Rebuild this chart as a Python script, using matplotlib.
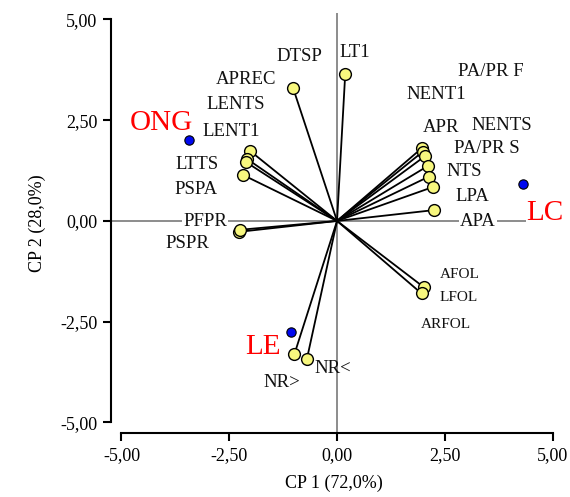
import matplotlib
matplotlib.use("Agg")
import matplotlib.pyplot as plt

plt.rcParams['font.family'] = ['Liberation Serif', 'DejaVu Serif']

# Variable vectors (CP1, CP2)
var_x = [-1.02, 0.19, -2.02, -2.09, -2.11, -2.18, -2.27, -2.25,
         1.96, 1.99, 2.03, 2.10, 2.13, 2.22, 2.26,
         2.02, 1.96, -0.99, -0.70]
var_y = [3.30, 3.65, 1.74, 1.54, 1.46, 1.14, -0.27, -0.22,
         1.80, 1.72, 1.60, 1.36, 1.10, 0.84, 0.27,
         -1.65, -1.80, -3.31, -3.43]

# Variable labels and their positions
lab_text = ["DTSP", "LT1", "APREC", "LENTS", "LENT1", "LTTS", "PSPA", "PFPR", "PSPR",
            "PA/PR F", "NENT1", "APR", "NENTS", "PA/PR S", "NTS", "LPA", "APA",
            "NR<", "NR>"]
lab_x = [-0.88, 0.42, -2.11, -2.34, -2.46, -3.25, -3.27, -3.06, -3.48,
         3.57, 2.30, 2.41, 3.81, 3.48, 2.95, 3.13, 3.27,
         -0.09, -1.28]
lab_y = [4.07, 4.19, 3.50, 2.88, 2.23, 1.41, 0.77, -0.02, -0.55,
         3.72, 3.15, 2.31, 2.38, 1.81, 1.22, 0.60, -0.02,
         -3.67, -4.02]

small_text = ["AFOL", "LFOL", "ARFOL"]
small_x = [2.85, 2.83, 2.53]
small_y = [-1.32, -1.91, -2.58]

# Treatments (scores)
trt_text = ["ONG", "LC", "LE"]
trt_x = [-3.43, 4.32, -1.07]
trt_y = [2.01, 0.92, -2.75]
trt_lab_x = [-4.08, 4.83, -1.72]
trt_lab_y = [2.43, 0.20, -3.13]

ticks = [-5.0, -2.5, 0.0, 2.5, 5.0]
tick_labels = ["-5,00", "-2,50", "0,00", "2,50", "5,00"]

fig = plt.figure(figsize=(5.70, 4.97), dpi=100)
ax = fig.add_axes([0.195, 0.129, 0.782, 0.844])

ax.axhline(0, color='#8c8c8c', lw=1.4, zorder=1)
ax.axvline(0, color='#8c8c8c', lw=1.4, zorder=1)

for x, y in zip(var_x, var_y):
    ax.plot([0, x], [0, y], color='black', lw=1.3, zorder=2)
ax.scatter(var_x, var_y, s=72, facecolor='#f7f77e', edgecolor='black', linewidth=1.0, zorder=4)
ax.scatter(trt_x, trt_y, s=45, facecolor='#0008f0', edgecolor='black', linewidth=0.8, zorder=4)

for t, x, y in zip(lab_text, lab_x, lab_y):
    ax.text(x, y, t, fontsize=13.5, ha='center', va='center', color='#111111', zorder=3,
            bbox=dict(facecolor='white', edgecolor='none', pad=0.5) if t in ("PFPR", "APA") else None)
for t, x, y in zip(small_text, small_x, small_y):
    ax.text(x, y, t, fontsize=11, ha='center', va='center', color='#111111', zorder=3)
for t, x, y in zip(trt_text, trt_lab_x, trt_lab_y):
    ax.text(x, y, t, fontsize=21, ha='center', va='center', color='#ff0000', zorder=3,
            bbox=dict(facecolor='white', edgecolor='none', pad=0.5) if t == "LC" else None)

ax.set_xlim(-5.24, 5.1)
ax.set_ylim(-5.26, 5.15)
for s in ['top', 'right']:
    ax.spines[s].set_visible(False)
ax.spines['left'].set_bounds(-5, 5)
ax.spines['bottom'].set_bounds(-5, 5)
ax.spines['left'].set_linewidth(1.5)
ax.spines['bottom'].set_linewidth(1.5)

ax.set_xticks(ticks)
ax.set_xticklabels(tick_labels)
ax.set_yticks(ticks)
ax.set_yticklabels(tick_labels)
ax.tick_params(direction='out', length=6, width=1.5, labelsize=13, pad=4)

ax.set_xlabel("CP 1 (72,0%)", fontsize=13, labelpad=8)
ax.set_ylabel("CP 2 (28,0%)", fontsize=13, labelpad=10)

fig.savefig("out.png", dpi=100)
